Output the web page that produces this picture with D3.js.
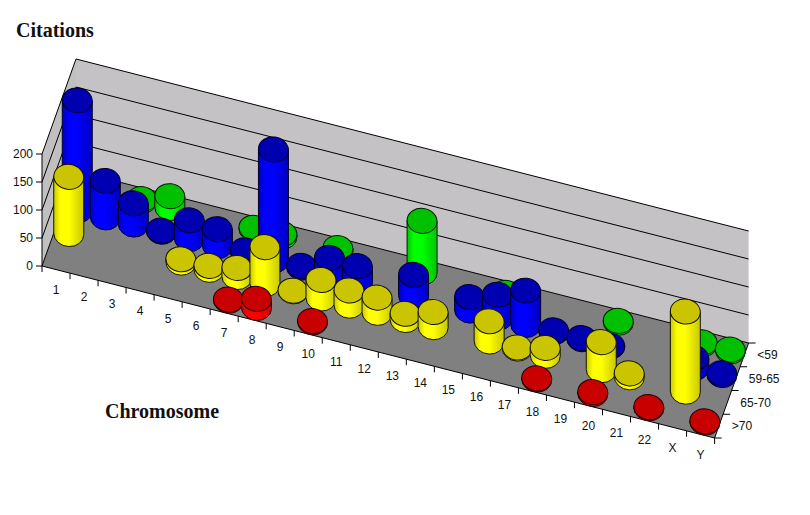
<!DOCTYPE html>
<html><head><meta charset="utf-8">
<script src="https://cdn.jsdelivr.net/npm/d3@7"></script>
<style>html,body{margin:0;background:#fff}svg{display:block}</style></head>
<body><svg id="c" width="810" height="515"></svg>
<script>
const chromosomes = ["1","2","3","4","5","6","7","8","9","10","11","12","13","14","15","16","17","18","19","20","21","22","X","Y"];
const ageGroups = [">70","65-70","59-65","<59"];
const yTicks = [0,50,100,150,200];
const over70  = [0,0,0,0,0,0,2,16,0,2,0,0,0,0,0,0,0,2,0,3,0,2,0,2];
const age6570 = [102,0,0,0,6,7,16,66,1,33,27,27,11,27,0,36,2,14,0,50,7,0,143,0];
const age5965 = [196,65,38,2,33,30,5,198,3,30,28,0,38,0,24,41,61,3,2,2,0,0,18,3];
const under59 = [0,0,3,21,0,0,3,5,0,5,0,0,92,0,0,2,0,0,0,3,0,0,3,3];
const seriesByRow = [over70, age6570, age5965, under59];

const palette = [
  {top:"#c80000", lit:"#ff0000", dim:"#d40000", edge:"#1c0000"},
  {top:"#cbc400", lit:"#ffff00", dim:"#c8c800", edge:"#141400"},
  {top:"#0000b0", lit:"#0000ff", dim:"#0000c0", edge:"#000028"},
  {top:"#00c000", lit:"#00ff00", dim:"#00c400", edge:"#001c00"}
];

const O = {x:42, y:266};           // front-left floor corner
const XV = {x:672.6, y:172};       // along the chromosome axis
const ZV = {x:34, y:-95};          // along the age axis
const xS = d3.scaleBand().domain(chromosomes).range([0,1]);
const zS = d3.scaleBand().domain(ageGroups).range([0,1]);
const yS = d3.scaleLinear().domain([0,200]).range([0,112]);
const P = (u,v,h=0)=>({x:O.x+u*XV.x+v*ZV.x, y:O.y+u*XV.y+v*ZV.y-h});
const seg = (a,b)=>`M${a.x},${a.y}L${b.x},${b.y}`;
const poly = pts=>"M"+pts.map(p=>`${p.x},${p.y}`).join("L")+"Z";

const svg = d3.select("#c");
const defs = svg.append("defs");
palette.forEach((p,i)=>{
  const g = defs.append("linearGradient").attr("id","g"+i);
  g.append("stop").attr("offset","0").attr("stop-color",p.dim);
  g.append("stop").attr("offset",".22").attr("stop-color",p.lit);
  g.append("stop").attr("offset",".5").attr("stop-color",p.lit);
  g.append("stop").attr("offset","1").attr("stop-color",p.dim);
});

const wallH = yS(200);
// walls and floor
svg.append("path").attr("d",poly([P(0,0),P(0,1),P(0,1,wallH),P(0,0,wallH)])).attr("fill","#c0c0c0");
svg.append("path").attr("d",poly([P(0,1),P(1,1),P(1,1,wallH),P(0,1,wallH)])).attr("fill","#c4c2c4");
svg.append("path").attr("d",poly([P(0,0),P(1,0),P(1,1),P(0,1)])).attr("fill","#808080");
const grid = svg.append("g").attr("stroke","#000").attr("fill","none").attr("stroke-width",1);
yTicks.forEach(t=>{
  const h = yS(t);
  grid.append("path").attr("d",seg(P(0,0,h),P(0,1,h))+seg(P(0,1,h),P(1,1,h)));
  grid.append("path").attr("d",seg(P(0,0,h),{x:P(0,0,h).x-6,y:P(0,0,h).y}));
  svg.append("text").attr("x",P(0,0,h).x-9).attr("y",P(0,0,h).y).attr("dy","0.36em")
    .attr("text-anchor","end").attr("class","t").text(t);
});
grid.append("path").attr("d",seg(P(0,0),P(0,0,wallH))+seg(P(0,0),P(1,0))+seg(P(1,0),P(1,1)));

// category axis
[...chromosomes,null].forEach((c,i)=>{
  const a = P(i/chromosomes.length,0);
  grid.append("path").attr("d",seg(a,{x:a.x,y:a.y+6}));
});
chromosomes.forEach(c=>{
  const a = P(xS(c)+xS.bandwidth()/2,0);
  svg.append("text").attr("x",a.x).attr("y",a.y+20).attr("dy","0.36em")
    .attr("text-anchor","middle").attr("class","t").text(c);
});
// age axis
[...ageGroups,null].forEach((c,i)=>{
  const a = P(1,i/ageGroups.length);
  grid.append("path").attr("d",seg(a,{x:a.x+7,y:a.y}));
});
ageGroups.forEach(c=>{
  const a = P(1,zS(c)+zS.bandwidth()/2);
  svg.append("text").attr("x",a.x+13).attr("y",a.y).attr("dy","0.36em")
    .attr("text-anchor","start").attr("class","t").text(c);
});
svg.selectAll(".t").attr("font-family","'Liberation Sans',Arial,sans-serif").attr("font-size",12).attr("fill","#111");

// cylinders, back row first
const RX = 15, RY = 12.5, TILT = 8, DY = 0.6;
const bars = svg.append("g");
for (let r = ageGroups.length-1; r >= 0; r--) {
  seriesByRow[r].forEach((val,i)=>{
    if (!val) return;
    const b = P(xS(chromosomes[i])+xS.bandwidth()/2, zS(ageGroups[r])+zS.bandwidth()/2);
    const h = yS(val), p = palette[r];
    const d = `M${b.x-RX},${b.y-h-DY}L${b.x-RX},${b.y-DY}A${RX},${RY} ${TILT} 0 0 ${b.x+RX},${b.y+DY}L${b.x+RX},${b.y-h+DY}Z`;
    bars.append("path").attr("d",d).attr("fill",`url(#g${r})`).attr("stroke",p.edge).attr("stroke-width",1);
    bars.append("ellipse").attr("cx",b.x).attr("cy",b.y-h).attr("rx",RX).attr("ry",RY)
      .attr("transform",`rotate(${TILT} ${b.x} ${b.y-h})`)
      .attr("fill",p.top).attr("stroke",p.edge).attr("stroke-width",1);
  });
}

// titles
svg.append("text").attr("x",16).attr("y",37).attr("font-family","'Liberation Serif',serif")
  .attr("font-weight","bold").attr("font-size",20).attr("fill","#111").text("Citations");
svg.append("text").attr("x",105).attr("y",418).attr("font-family","'Liberation Serif',serif")
  .attr("font-weight","bold").attr("font-size",20).attr("fill","#111").text("Chromosome");
</script></body></html>
